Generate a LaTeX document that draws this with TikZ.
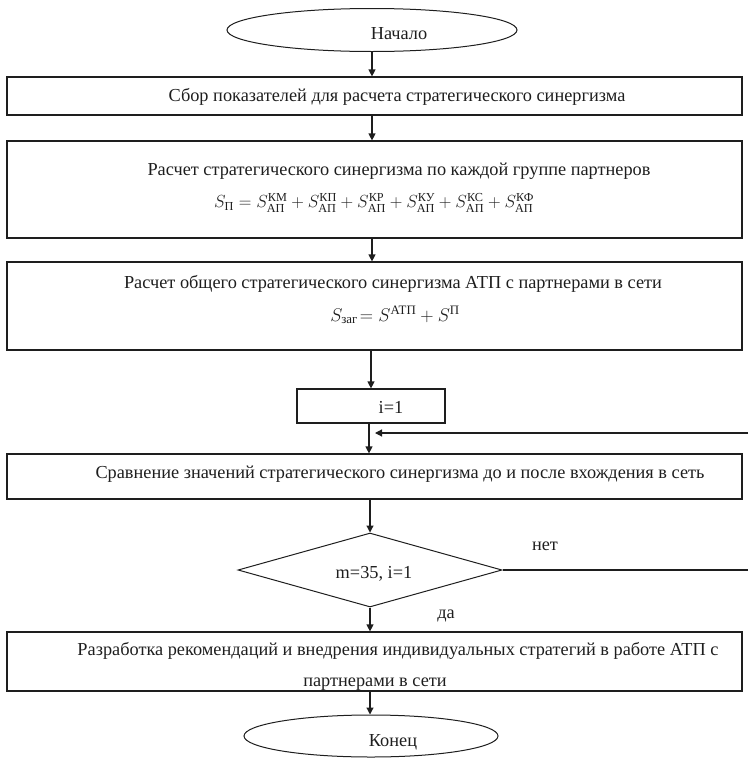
\RequirePackage{fix-cm}
\documentclass[tikz,border=0pt]{standalone}
\usepackage{amsmath}
\usepackage{fontspec}
\setmainfont{Liberation Serif}
\usetikzlibrary{shapes.geometric,arrows.meta}
\definecolor{ink}{HTML}{1E1E1E}
\begin{document}
\begin{tikzpicture}[x=1pt,y=-1pt,
  every node/.style={text=ink},
  boxnode/.style={draw=ink, line width=1.2pt, rectangle, inner sep=0pt},
  ellnode/.style={draw=ink, line width=1pt, ellipse, inner sep=0pt},
  dianode/.style={draw=ink, line width=1pt, diamond, inner sep=0pt},
  txt/.style={font=\fontsize{18.3}{22}\selectfont, inner sep=0pt, anchor=base},
  frm/.style={inner sep=0pt},
  arr/.style={draw=ink, line width=1.2pt, -{Triangle[length=7pt,width=7pt]}},
  ln/.style={draw=ink, line width=1.2pt}]
\useasboundingbox (0,0) rectangle (748,758);

% shapes
\node[ellnode, minimum width=290pt, minimum height=43pt] (start) at (372,30) {};
\node[boxnode, minimum width=735pt, minimum height=38pt] (b1) at (374.5,96) {};
\node[boxnode, minimum width=735pt, minimum height=97pt] (b2) at (374.5,189.5) {};
\node[boxnode, minimum width=735pt, minimum height=88pt] (b3) at (374.5,306) {};
\node[boxnode, minimum width=148pt, minimum height=34pt] (ii) at (371,406) {};
\node[boxnode, minimum width=735pt, minimum height=45pt] (b5) at (374.5,476.5) {};
\node[dianode, minimum width=264pt, minimum height=74pt] (d) at (370,570) {};
\node[boxnode, minimum width=735pt, minimum height=59pt] (b6) at (374.5,661.5) {};
\node[ellnode, minimum width=254pt, minimum height=42pt] (end) at (371,736) {};

% texts
\node[txt] (tstart) at (399,39) {Начало};
\node[txt] (t1) at (397,101) {Сбор показателей для расчета стратегического синергизма};
\node[txt] (t2) at (399,175) {Расчет стратегического синергизма по каждой группе партнеров};
\node[frm, font=\fontsize{17.5}{21}\selectfont] (f2) at (374,203) {$S_{\text{П}} = S^{\text{КМ}}_{\text{АП}} + S^{\text{КП}}_{\text{АП}} + S^{\text{КР}}_{\text{АП}} + S^{\text{КУ}}_{\text{АП}} + S^{\text{КС}}_{\text{АП}} + S^{\text{КФ}}_{\text{АП}}$};
\node[txt] (t3) at (393,288) {Расчет общего стратегического синергизма АТП с партнерами в сети};
\node[frm, font=\fontsize{18.4}{22}\selectfont] (f3) at (395,315) {$S_{\text{заг}}\!= S^{\text{АТП}} + S^{\text{П}}$};
\node[txt] (tii) at (391,413) {i=1};
\node[txt] (t5) at (400,478) {Сравнение значений стратегического синергизма до и после вхождения в сеть};
\node[txt] (td) at (374,578) {m=35, i=1};
\node[txt] (t6a) at (398,655) {Разработка рекомендаций и внедрения индивидуальных стратегий в работе АТП с};
\node[txt] (t6b) at (375,686) {партнерами в сети};
\node[txt] (tend) at (393,746) {Конец};
\node[txt] (tno) at (545,550) {нет};
\node[txt] (tyes) at (446,618) {да};

% connectors
\coordinate (r1) at (748,433);
\coordinate (r2) at (748,570);
\draw[arr] (start.south) -- (start.south |- b1.north);
\draw[arr] ([xshift=-2.5pt]b1.south) -- ([xshift=-2.5pt]b1.south |- b2.north);
\draw[arr] ([xshift=-2.5pt]b2.south) -- ([xshift=-2.5pt]b2.south |- b3.north);
\draw[arr] ([xshift=-3.5pt]b3.south) -- ([xshift=-3.5pt]b3.south |- ii.north);
\draw[arr] ([xshift=-2pt]ii.south) -- ([xshift=-2pt]ii.south |- b5.north);
\draw[arr] (r1) -- ([xshift=4pt]ii.south |- r1);
\draw[arr] ([xshift=-4.5pt]b5.south) -- ([xshift=-4.5pt]b5.south |- d.north);
\draw[ln] (d.east) -- (r2);
\draw[arr] (d.south) -- (d.south |- b6.north);
\draw[arr] ([xshift=-4.5pt]b6.south) -- ([xshift=-4.5pt]b6.south |- end.north);
\end{tikzpicture}
\end{document}
